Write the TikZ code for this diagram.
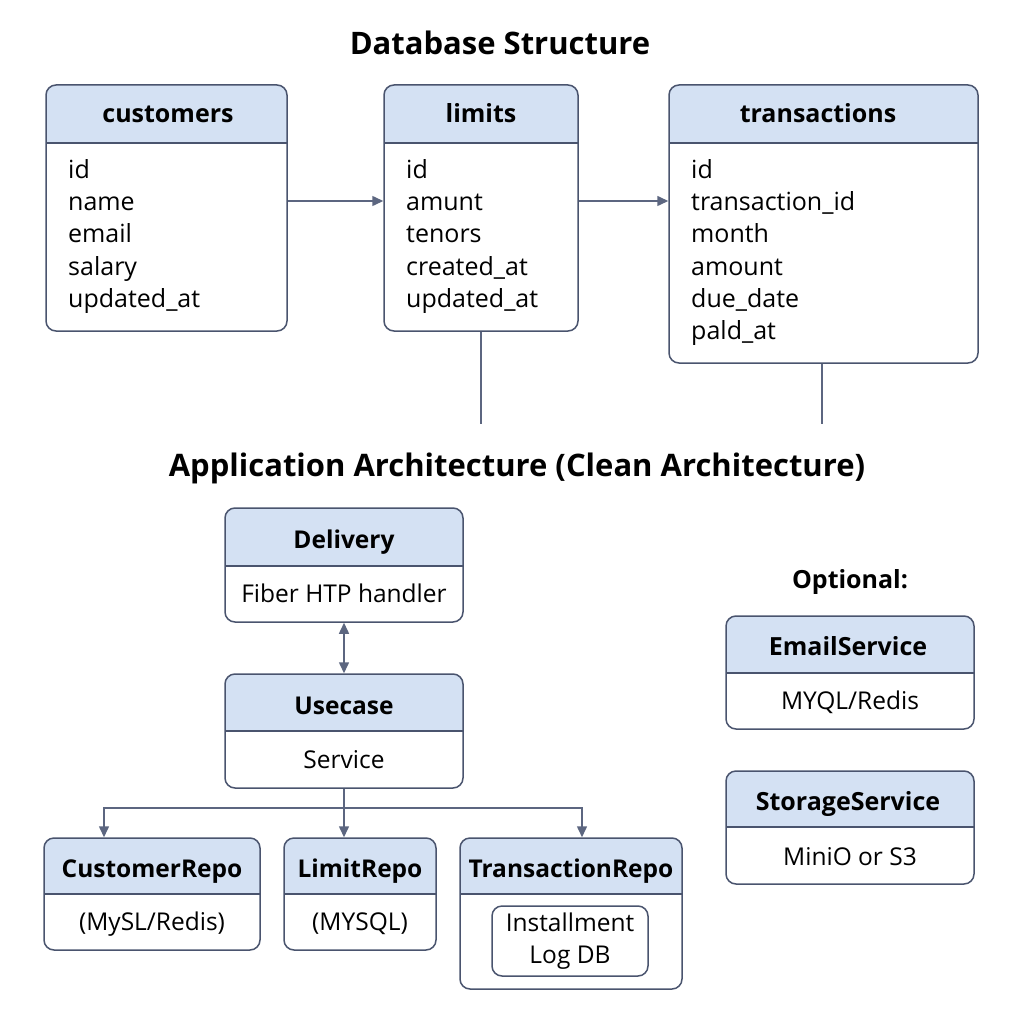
\documentclass[tikz,border=0pt]{standalone}
\usepackage{fontspec}
\setmainfont{Open Sans}
\usetikzlibrary{arrows.meta}

\definecolor{hdrblue}{RGB}{212,225,243}
\definecolor{slate}{RGB}{74,84,110}
\definecolor{arrowgray}{RGB}{92,102,128}

% header band of a box: x1, y1, x2, y2, y of header rule
\newcommand{\hdrband}[5]{%
  \begin{scope}
    \clip[rounded corners=10] (#1,#2) rectangle (#3,#4);
    \fill[hdrblue] (#1,#2) rectangle (#3,#5);
  \end{scope}
  \draw[slate, line width=1.5] (#1,#5) -- (#3,#5);
}

\tikzset{
  tbl/.style={draw=slate, line width=1.5, rounded corners=10, inner sep=0},
  titletxt/.style={font=\fontsize{31}{36}\selectfont\bfseries, anchor=base},
  hdrtxt/.style={font=\fontsize{25}{30}\selectfont\bfseries, anchor=base},
  archhdr/.style={font=\fontsize{24.5}{30}\selectfont\bfseries, anchor=base},
  fld/.style={font=\fontsize{25}{30}\selectfont, anchor=base west, inner sep=0},
  bodytxt/.style={font=\fontsize{24.5}{30}\selectfont, anchor=base, align=center},
  conn/.style={draw=arrowgray, line width=1.5},
  arrowtip/.style={-{Triangle[width=10,length=11]}},
  twotips/.style={{Triangle[width=10,length=11]}-{Triangle[width=10,length=11]}},
}

\begin{document}
\begin{tikzpicture}[x=1pt,y=-1pt]
\useasboundingbox (0,0) rectangle (1024,1024);

% Text Node
\node[titletxt] (dbtitle) at (500,55) {Database Structure};

%Shape: Table customers
\hdrband{46}{85}{287}{331}{143}
\node[tbl, minimum width=241, minimum height=246] (customers) at (166.5,208) {};
\node[hdrtxt] (customersT) at (168,123) {customers};
\foreach \f [count=\i] in {id,name,email,salary,updated\_at}
  \node[fld] at (68,147+32*\i) {\f};

%Shape: Table limits
\hdrband{384}{85}{578}{331}{143}
\node[tbl, minimum width=194, minimum height=246] (limits) at (481,208) {};
\node[hdrtxt] (limitsT) at (481,123) {limits};
\foreach \f [count=\i] in {id,amunt,tenors,created\_at,updated\_at}
  \node[fld] at (406,147+32*\i) {\f};

%Shape: Table transactions
\hdrband{669}{85}{978}{363}{143}
\node[tbl, minimum width=309, minimum height=278] (transactions) at (823.5,224) {};
\node[hdrtxt] (transactionsT) at (818,123) {transactions};
\foreach \f [count=\i] in {id,transaction\_id,month,amount,due\_date,pald\_at}
  \node[fld] at (691,147+32*\i) {\f};

%Straight Lines
\draw[conn, arrowtip] ([yshift=7]customers.east) -- ([yshift=7]limits.west);
\draw[conn, arrowtip] ([yshift=7]limits.east) -- ([yshift=23]transactions.west);
\coordinate (limitsEnd) at (481,424);
\coordinate (transEnd) at (822,424);
\draw[conn] (limits.south) -- (limitsEnd);
\draw[conn] (transactions.south -| transEnd) -- (transEnd);

% Text Node
\node[titletxt] (apptitle) at (517,476) {Application Architecture (Clean Architecture)};

%Shape: Box Delivery
\hdrband{225}{508}{463}{622}{566}
\node[tbl, minimum width=238, minimum height=114] (delivery) at (344,565) {};
\node[archhdr] (deliveryT) at (344,548) {Delivery};
\node[bodytxt] (deliveryB) at (344,602) {Fiber HTP handler};

%Shape: Box Usecase
\hdrband{225}{674}{463}{788}{731}
\node[tbl, minimum width=238, minimum height=114] (usecase) at (344,731) {};
\node[archhdr] (usecaseT) at (344,714) {Usecase};
\node[bodytxt] (usecaseB) at (344,768) {Service};

\draw[conn, twotips] (delivery.south) -- (usecase.north);

%Shape: Box CustomerRepo
\hdrband{44}{838}{260}{950}{894}
\node[tbl, minimum width=216, minimum height=112] (crepo) at (152,894) {};
\node[archhdr] (crepoT) at (152,877) {CustomerRepo};
\node[bodytxt] (crepoB) at (152,930) {(MySL/Redis)};

%Shape: Box LimitRepo
\hdrband{284}{838}{436}{950}{894}
\node[tbl, minimum width=152, minimum height=112] (lrepo) at (360,894) {};
\node[archhdr] (lrepoT) at (360,877) {LimitRepo};
\node[bodytxt] (lrepoB) at (360,930) {(MYSQL)};

%Shape: Box TransactionRepo
\hdrband{460}{838}{682}{989}{894}
\node[tbl, minimum width=222, minimum height=151] (trepo) at (571,913.5) {};
\node[archhdr] (trepoT) at (571,877) {TransactionRepo};
\node[tbl, minimum width=156, minimum height=70, font=\fontsize{24.5}{32}\selectfont, align=center] (logdb) at (570,941) {Installment\\Log DB};

%Straight Lines
\coordinate (bus) at (344,808);
\draw[conn] (usecase.south) -- (bus);
\draw[conn, arrowtip] (bus) -| ([xshift=-48]crepo.north);
\draw[conn, arrowtip] (bus) -- (bus |- lrepo.north);
\draw[conn, arrowtip] (bus) -| ([xshift=11]trepo.north);

% Text Node
\node[hdrtxt] (optional) at (850,588) {Optional:};

%Shape: Box EmailService
\hdrband{726}{616}{974}{729}{673}
\node[tbl, minimum width=248, minimum height=113] (email) at (850,672.5) {};
\node[hdrtxt] (emailT) at (848,655) {EmailService};
\node[bodytxt] (emailB) at (850,709) {MYQL/Redis};

%Shape: Box StorageService
\hdrband{726}{771}{974}{884}{827}
\node[tbl, minimum width=248, minimum height=113] (storage) at (850,827.5) {};
\node[hdrtxt] (storageT) at (848,810) {StorageService};
\node[bodytxt] (storageB) at (850,865) {MiniO or S3};

\end{tikzpicture}
\end{document}
